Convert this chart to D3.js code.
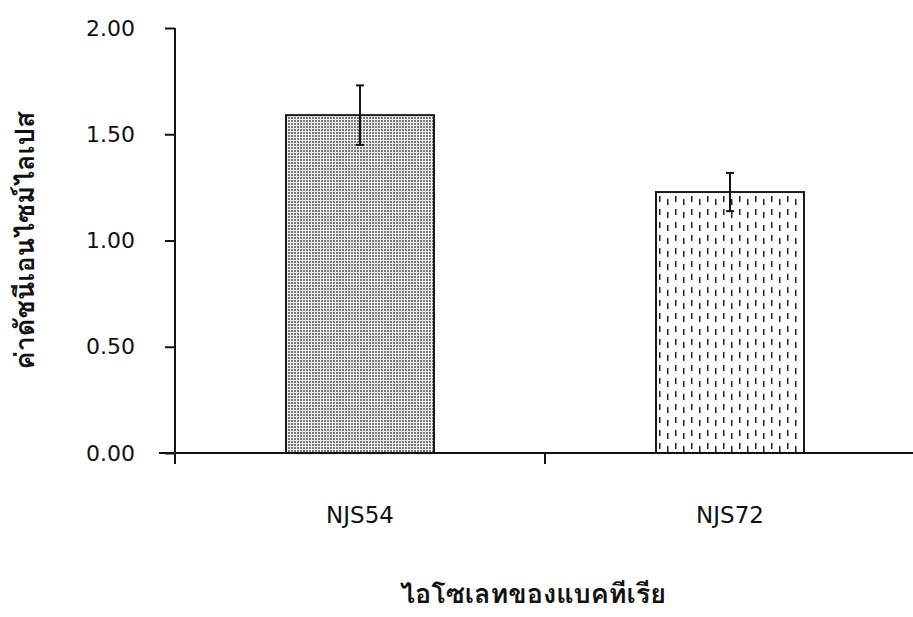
<!DOCTYPE html>
<html>
<head>
<meta charset="utf-8">
<script src="https://cdn.jsdelivr.net/npm/d3@7"></script>
<style>
  html, body { margin: 0; padding: 0; background: #fff; }
  svg { display: block; }
</style>
</head>
<body>
<svg id="chart" width="913" height="617"></svg>
<script>
// Lipase activity of two bacterial isolates (mean ± error)
const isolates = ["NJS54", "NJS72"];
const activity = [1.59, 1.228];
const errorUp = [0.14, 0.09];
const errorDown = [0.14, 0.09];
const yTicks = [0, 0.5, 1.0, 1.5, 2.0];
const patterns = ["dots", "dashes"];

const W = 913, H = 617;
const margin = { left: 175, right: -2, top: 28, bottom: 164 };
const latinFont = "'DejaVu Sans', Verdana, sans-serif";
const thaiFont = "Loma, Garuda, 'Tlwg Typo', 'Noto Sans Thai Looped', 'Noto Sans Thai', 'Noto Sans', sans-serif";
const svg = d3.select("#chart");

// Fill patterns for the two bars
const defs = svg.append("defs");
const pDots = defs.append("pattern").attr("id", "dots")
  .attr("patternUnits", "userSpaceOnUse").attr("width", 3).attr("height", 3);
pDots.append("rect").attr("width", 3).attr("height", 3).attr("fill", "#f0f0f0");
pDots.append("rect").attr("width", 2).attr("height", 2).attr("fill", "#7a7a7a");

const pDash = defs.append("pattern").attr("id", "dashes")
  .attr("patternUnits", "userSpaceOnUse").attr("width", 16).attr("height", 13);
pDash.append("rect").attr("width", 16).attr("height", 13).attr("fill", "#fff");
pDash.append("rect").attr("x", 3).attr("y", 1).attr("width", 1.5).attr("height", 6).attr("fill", "#222");
pDash.append("rect").attr("x", 11).attr("y", 4).attr("width", 1.5).attr("height", 6).attr("fill", "#222");

const x = d3.scaleBand().domain(isolates)
  .range([margin.left, W - margin.right]).padding(0);
const y = d3.scaleLinear().domain([0, 2]).range([H - margin.bottom, margin.top]);

const barW = x.bandwidth() * 0.4;

// Bars
svg.append("g").selectAll("rect").data(isolates).join("rect")
  .attr("x", d => x(d) + (x.bandwidth() - barW) / 2)
  .attr("y", (d, i) => y(activity[i]))
  .attr("width", barW)
  .attr("height", (d, i) => y(0) - y(activity[i]))
  .attr("fill", (d, i) => `url(#${patterns[i]})`)
  .attr("stroke", "#1a1a1a").attr("stroke-width", 2);

// Error bars
const eb = svg.append("g").attr("stroke", "#111").attr("stroke-width", 2);
isolates.forEach((d, i) => {
  const cx = x(d) + x.bandwidth() / 2;
  const top = y(activity[i] + errorUp[i]);
  const bot = y(activity[i] - errorDown[i]);
  eb.append("line").attr("x1", cx).attr("x2", cx).attr("y1", top).attr("y2", bot);
  eb.append("line").attr("x1", cx - 4).attr("x2", cx + 4).attr("y1", top).attr("y2", top);
  eb.append("line").attr("x1", cx - 4).attr("x2", cx + 4).attr("y1", bot).attr("y2", bot);
});

// Y axis
const yAxis = svg.append("g").attr("transform", `translate(${margin.left},0)`)
  .call(d3.axisLeft(y).tickValues(yTicks).tickFormat(d3.format(".2f")).tickSize(10).tickPadding(30));
yAxis.selectAll("path, line").attr("stroke", "#111").attr("stroke-width", 2);
yAxis.select(".domain").attr("d", `M0,${y(2)}V${y(0)}`);
yAxis.selectAll("text").attr("font-family", latinFont).attr("font-size", 22).attr("fill", "#111");

// X axis
const xAxis = svg.append("g").attr("transform", `translate(0,${y(0)})`)
  .call(d3.axisBottom(x).tickValues([]).tickSizeOuter(0));
xAxis.select(".domain").attr("d", `M${margin.left - 16},0H${W}`)
  .attr("stroke", "#111").attr("stroke-width", 2);
// Ticks at band boundaries
xAxis.selectAll("line.bound").data([x.range()[0], x(isolates[1])]).join("line")
  .attr("class", "bound").attr("x1", d => d).attr("x2", d => d)
  .attr("y1", 0).attr("y2", 11).attr("stroke", "#111").attr("stroke-width", 2);
// Category labels
xAxis.selectAll("text.cat").data(isolates).join("text")
  .attr("class", "cat")
  .attr("x", d => x(d) + x.bandwidth() / 2).attr("y", 70)
  .attr("text-anchor", "middle")
  .attr("font-family", latinFont)
  .attr("font-size", 23).attr("fill", "#111").text(d => d);

// Axis titles
svg.append("text")
  .attr("transform", `translate(34,${(y(0) + y(2)) / 2}) rotate(-90)`)
  .attr("text-anchor", "middle")
  .attr("font-family", thaiFont)
  .attr("font-weight", "bold").attr("font-size", 27).attr("fill", "#111")
  .text("ค่าดัชนีเอนไซม์ไลเปส");

svg.append("text")
  .attr("x", 533).attr("y", 603)
  .attr("text-anchor", "middle")
  .attr("font-family", thaiFont)
  .attr("font-weight", "bold").attr("font-size", 27).attr("fill", "#111")
  .text("ไอโซเลทของแบคทีเรีย");
</script>
</body>
</html>
